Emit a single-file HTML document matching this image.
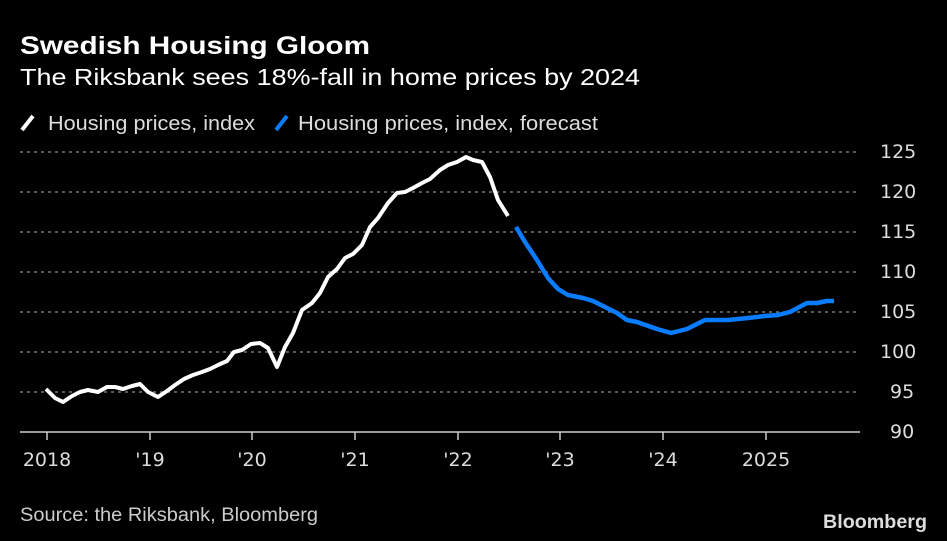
<!DOCTYPE html>
<html><head><meta charset="utf-8"><style>
body{margin:0;background:#000;width:947px;height:541px;overflow:hidden;font-family:"Liberation Sans",sans-serif;color:#fff}
</style></head><body>
<svg width="947" height="541" xmlns="http://www.w3.org/2000/svg" style="position:absolute;left:0;top:0">
<rect width="947" height="541" fill="#000"/>
<text x="20" y="54" font-size="25" font-weight="bold" fill="#fff" font-family="Liberation Sans,sans-serif" textLength="350" lengthAdjust="spacingAndGlyphs">Swedish Housing Gloom</text>
<text x="20" y="85" font-size="23" fill="#fff" font-family="Liberation Sans,sans-serif" textLength="620" lengthAdjust="spacingAndGlyphs">The Riksbank sees 18%-fall in home prices by 2024</text>
<line x1="22" y1="130" x2="33" y2="116" stroke="#fff" stroke-width="4"/>
<text x="48" y="130" font-size="20" fill="#ddd" font-family="Liberation Sans,sans-serif" textLength="207" lengthAdjust="spacingAndGlyphs">Housing prices, index</text>
<line x1="276" y1="130" x2="287" y2="116" stroke="#0a7cff" stroke-width="4"/>
<text x="298" y="130" font-size="20" fill="#ddd" font-family="Liberation Sans,sans-serif" textLength="300" lengthAdjust="spacingAndGlyphs">Housing prices, index, forecast</text>
<g stroke="#777" stroke-width="1.5" stroke-dasharray="3,4">
<line x1="20" y1="152" x2="860" y2="152"/><line x1="20" y1="192" x2="860" y2="192"/><line x1="20" y1="232" x2="860" y2="232"/><line x1="20" y1="272" x2="860" y2="272"/><line x1="20" y1="312" x2="860" y2="312"/><line x1="20" y1="352" x2="860" y2="352"/><line x1="20" y1="392" x2="860" y2="392"/>
</g>
<line x1="20" y1="432" x2="860" y2="432" stroke="#ccc" stroke-width="1.5"/>
<g stroke="#ccc" stroke-width="1.5">
<line x1="47" y1="432" x2="47" y2="440"/><line x1="150" y1="432" x2="150" y2="440"/><line x1="252" y1="432" x2="252" y2="440"/><line x1="355" y1="432" x2="355" y2="440"/><line x1="458" y1="432" x2="458" y2="440"/><line x1="560" y1="432" x2="560" y2="440"/><line x1="663" y1="432" x2="663" y2="440"/><line x1="766" y1="432" x2="766" y2="440"/>
</g>
<g font-size="19" fill="#ddd" font-family="DejaVu Sans,sans-serif" text-anchor="middle">
<text x="47" y="466">2018</text><text x="150" y="466">'19</text><text x="252" y="466">'20</text><text x="355" y="466">'21</text><text x="458" y="466">'22</text><text x="560" y="466">'23</text><text x="663" y="466">'24</text><text x="766" y="466">2025</text>
</g>
<g font-size="19" fill="#ddd" font-family="DejaVu Sans,sans-serif" text-anchor="start">
<text x="880" y="158">125</text><text x="880" y="198">120</text><text x="880" y="238">115</text><text x="880" y="278">110</text><text x="880" y="318">105</text><text x="880" y="358">100</text><text x="890" y="398">95</text><text x="890" y="438">90</text>
</g>
<polyline fill="none" stroke="#fff" stroke-width="4" stroke-linejoin="round" points="46,389 55,398 63,402 72,396 80,392 88,390 98,392 107,387 115,387 123,389 132,386 140,384 148,392 158,397 167,391 175,385 184,379 193,375 202,372 210,369 218,365 227,361 234,352 242,350 251,344 260,343 268,348 277,367 285,347 293,333 302,310 312,303 320,293 328,277 337,269 345,258 353,254 362,245 370,227 378,218 388,203 397,193 405,192 413,188 422,183 430,179 440,170 448,165 457,162 466,157 473,160 482,162 490,177 498,200 508,216"/>
<polyline fill="none" stroke="#0a7cff" stroke-width="4.5" stroke-linejoin="round" points="516,227 525,242 537,260 548,278 558,289 568,295 583,298 593,301 617,313 627,320 637,322 657,329 671,333 687,329 705,320 728,320 738,319 748,318 765,316 778,315 790,312 807,303 817,303 827,301 834,301"/>
<text x="20" y="521" font-size="19" fill="#ccc" font-family="Liberation Sans,sans-serif" textLength="298" lengthAdjust="spacingAndGlyphs">Source: the Riksbank, Bloomberg</text>
<text x="823" y="528" font-size="19" font-weight="bold" fill="#ddd" font-family="Liberation Sans,sans-serif" textLength="104" lengthAdjust="spacingAndGlyphs">Bloomberg</text>
</svg>
</body></html>
